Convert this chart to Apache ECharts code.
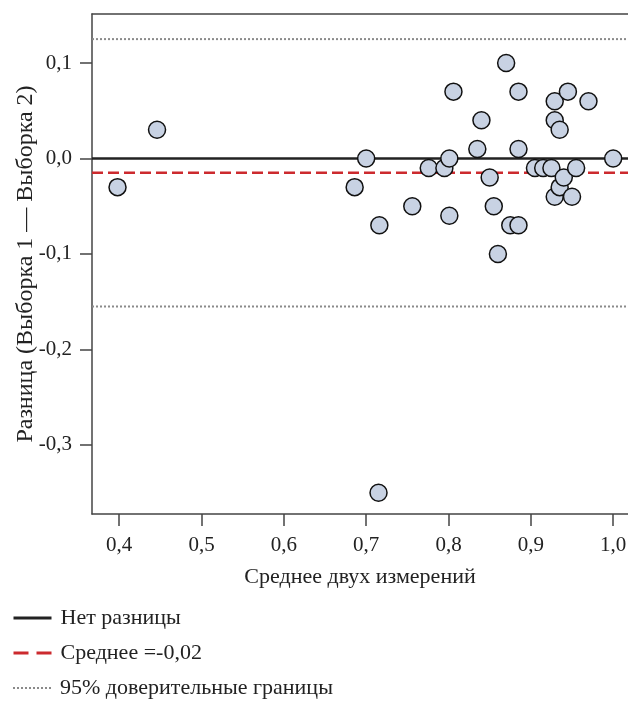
<!DOCTYPE html>
<html><head><meta charset="utf-8">
<script src="https://cdn.jsdelivr.net/npm/echarts@6/dist/echarts.min.js"></script>
<style>html,body{margin:0;padding:0;background:#fff}#c{width:628px;height:701px}</style>
</head><body><div id="c"></div>
<script>
const meanX = [0.398,0.446,0.686,0.700,0.715,0.716,0.756,0.776,0.795,0.801,0.801,0.806,0.835,0.840,0.850,0.855,0.860,0.870,0.875,0.885,0.885,0.885,0.905,0.915,0.925,0.929,0.929,0.929,0.935,0.935,0.940,0.945,0.950,0.955,0.970,1.000];
const diffY = [-0.03,0.03,-0.03,0.0,-0.35,-0.07,-0.05,-0.01,-0.01,0.0,-0.06,0.07,0.01,0.04,-0.02,-0.05,-0.10,0.10,-0.07,-0.07,0.07,0.01,-0.01,-0.01,-0.01,0.06,0.04,-0.04,0.03,-0.03,-0.02,0.07,-0.04,-0.01,0.06,0.0];
const xTicks = [0.4,0.5,0.6,0.7,0.8,0.9,1.0];
const yTicks = [0.1,0.0,-0.1,-0.2,-0.3];
const xMin = 0.367, xMax = 1.018;
const yMin = -0.3723, yMax = 0.1513;
const zeroLine = 0;
const meanDiff = -0.015;
const upperLimit = 0.125;
const lowerLimit = -0.155;
const legendNames = ['Нет разницы','Среднее =-0,02','95% доверительные границы'];

const font = 'Liberation Serif';
const fmt = v => v.toFixed(1).replace('.', ',');
const chart = echarts.init(document.getElementById('c'));
const pts = meanX.map((x,i)=>[x,diffY[i]]);
const hline = v => [[xMin, v],[xMax, v]];
const styles = [
  {color:'#222',width:2.5,type:'solid'},
  {color:'#cc2a2e',width:2.5,type:[11,5]},
  {color:'#8a8a8a',width:2,type:[2,2]}
];
const legendStyles = [
  {color:'#222',width:3,type:'solid'},
  {color:'#cc2a2e',width:3,type:[15,8]},
  {color:'#8a8a8a',width:2,type:[2,2]}
];
const legendTops = [602, 637, 672];
chart.setOption({
  animation:false,
  textStyle:{fontFamily:font},
  grid:{left:92,top:14,right:0,bottom:187,containLabel:false,outerBoundsMode:'none'},
  xAxis:[{
    type:'value', min:xMin, max:xMax,
    name:'Среднее двух измерений', nameLocation:'middle', nameGap:52, nameMoveOverlap:false,
    nameTextStyle:{fontFamily:font,fontSize:22,color:'#222'},
    axisLine:{show:true,onZero:false,lineStyle:{color:'#444',width:1.5}},
    axisTick:{show:true,length:12,inside:false,customValues:xTicks,lineStyle:{color:'#444',width:1.5}},
    axisLabel:{customValues:xTicks,formatter:fmt,fontFamily:font,fontSize:21,color:'#222',margin:21},
    splitLine:{show:false}
  },{
    type:'value', position:'top', min:xMin, max:xMax,
    axisLine:{show:true,onZero:false,lineStyle:{color:'#444',width:1.5}},
    axisTick:{show:false}, axisLabel:{show:false}, splitLine:{show:false}
  }],
  yAxis:{
    type:'value', min:yMin, max:yMax,
    name:'Разница (Выборка 1 — Выборка 2)', nameLocation:'middle', nameGap:54, nameMoveOverlap:false,
    nameTextStyle:{fontFamily:font,fontSize:24,color:'#222'},
    axisLine:{show:true,onZero:false,lineStyle:{color:'#444',width:1.5}},
    axisTick:{show:true,length:12,customValues:yTicks,lineStyle:{color:'#444',width:1.5}},
    axisLabel:{customValues:yTicks,formatter:fmt,fontFamily:font,fontSize:21,color:'#222',margin:20},
    splitLine:{show:false}
  },
  legend: legendNames.map((n,i)=>({
    orient:'vertical', left:7, top:legendTops[i], itemWidth:38, itemHeight:14, itemGap:0,
    data:[n], selectedMode:false, itemStyle:{opacity:0}, lineStyle:legendStyles[i],
    textStyle:{fontFamily:font,fontSize:22,color:'#222',padding:[0,0,0,4]}
  })),
  series:[
    {name:legendNames[0], type:'line', data:hline(zeroLine), symbol:'none', lineStyle:styles[0], itemStyle:{color:styles[0].color}, z:2},
    {name:legendNames[1], type:'line', data:hline(meanDiff), symbol:'none', lineStyle:styles[1], itemStyle:{color:styles[1].color}, z:2},
    {name:legendNames[2], type:'line', data:hline(upperLimit), symbol:'none', lineStyle:styles[2], itemStyle:{color:styles[2].color}, z:2},
    {name:legendNames[2], type:'line', data:hline(lowerLimit), symbol:'none', lineStyle:styles[2], itemStyle:{color:styles[2].color}, z:2},
    {type:'scatter', data:pts, symbolSize:17, z:5,
      itemStyle:{color:'#c8d2e3',borderColor:'#111',borderWidth:1.5,opacity:1}}
  ]
});
</script></body></html>
